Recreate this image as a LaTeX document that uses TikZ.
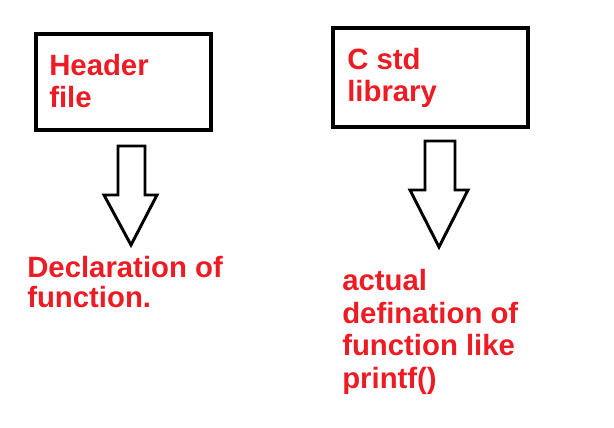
\documentclass[tikz,border=0pt]{standalone}
\usepackage{fontspec}
\setmainfont{Liberation Sans}
\definecolor{lbl}{RGB}{237,28,36}
\tikzset{box/.style={draw=black,line width=3pt},
 lab/.style={text=lbl,font=\bfseries\fontsize{22pt}{24pt}\selectfont,align=left,anchor=north west,inner sep=0pt},
 harrow/.style={draw=black,line width=2.2pt,line join=miter}}
\begin{document}
\begin{tikzpicture}[x=0.75pt,y=-0.75pt]
\useasboundingbox (0,0) rectangle (614,428);
\draw[box] (36,34) rectangle (211,130);
\draw[box] (333,28) rectangle (528,127);
\node[lab] (h) at (49,54) {Header\\file};
\node[lab] (c) at (347,48) {C std\\library};
\draw[harrow] (118,146) -- (145,146) -- (145,195) -- (157,195) -- (131,245) -- (104,195) -- (118,195) -- cycle;
\draw[harrow] (425,141) -- (455,141) -- (455,190) -- (468,190) -- (439,247) -- (410,190) -- (425,190) -- cycle;
\node[lab,font=\bfseries\fontsize{22pt}{22.5pt}\selectfont] (d) at (27,256) {Declaration of\\function.};
\node[lab,font=\bfseries\fontsize{22pt}{24.5pt}\selectfont] (a) at (342,269) {actual\\defination of\\function like\\printf()};
\end{tikzpicture}
\end{document}
